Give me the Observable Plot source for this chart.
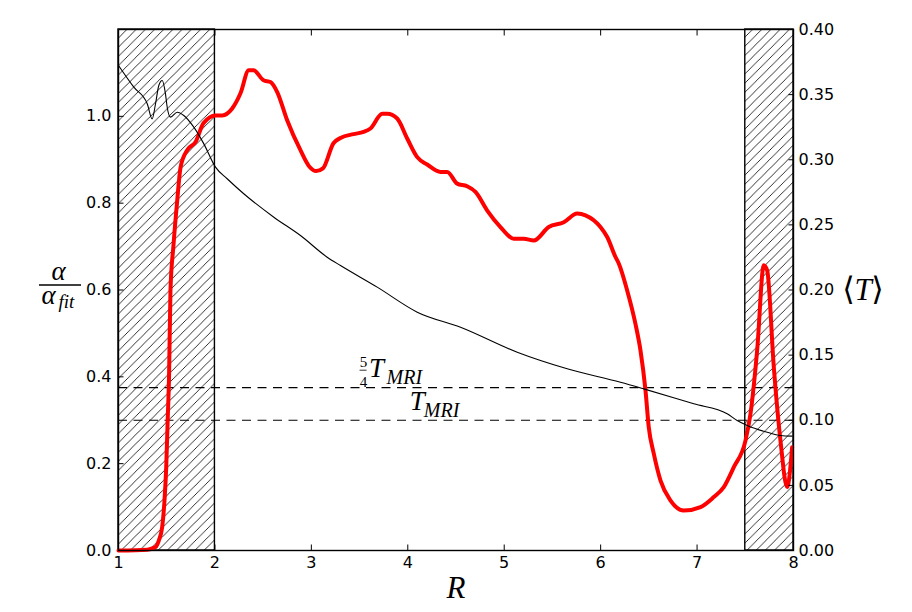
<!DOCTYPE html>
<html><head><meta charset="utf-8">
<script src="https://cdn.jsdelivr.net/npm/d3@7"></script>
<script src="https://cdn.jsdelivr.net/npm/@observablehq/plot@0.6"></script>
<style>body{margin:0;background:#fff;}</style>
</head><body><div id="chart"></div>
<script>
// ---- data ----
const xTicks = [1, 2, 3, 4, 5, 6, 7, 8];
const alphaTicks = [0.0, 0.2, 0.4, 0.6, 0.8, 1.0];
const tempTicks = [0.00, 0.05, 0.10, 0.15, 0.20, 0.25, 0.30, 0.35, 0.40];
const hatchStart = [1, 7.5];
const hatchEnd = [2, 8];
const mriLevels = [0.1, 0.125]; // T_MRI, 5/4 T_MRI  (right axis units)

// alpha / alpha_fit (left axis), red
const alphaR = [1.0, 1.298, 1.384, 1.418, 1.453, 1.477, 1.495, 1.510, 1.524, 1.539, 1.570, 1.609, 1.643, 1.712, 1.799, 1.881, 2.006, 2.075, 2.179, 2.265, 2.351, 2.400, 2.504, 2.576, 2.646, 2.749, 2.887, 2.980, 3.050, 3.120, 3.229, 3.302, 3.437, 3.541, 3.613, 3.735, 3.787, 3.890, 3.994, 4.098, 4.201, 4.339, 4.409, 4.512, 4.616, 4.702, 4.824, 4.961, 5.099, 5.203, 5.307, 5.462, 5.618, 5.757, 5.843, 5.998, 6.068, 6.154, 6.188, 6.275, 6.361, 6.413, 6.465, 6.499, 6.551, 6.621, 6.725, 6.862, 7.036, 7.173, 7.277, 7.381, 7.502, 7.554, 7.623, 7.692, 7.727, 7.796, 7.865, 7.934, 7.986];
const alphaVal = [0.000, 0.002, 0.008, 0.023, 0.054, 0.115, 0.192, 0.300, 0.399, 0.599, 0.703, 0.806, 0.882, 0.922, 0.941, 0.984, 1.002, 1.002, 1.018, 1.053, 1.106, 1.106, 1.083, 1.079, 1.056, 0.991, 0.922, 0.884, 0.874, 0.880, 0.938, 0.950, 0.959, 0.964, 0.972, 1.006, 1.006, 0.995, 0.949, 0.906, 0.889, 0.872, 0.872, 0.845, 0.839, 0.826, 0.783, 0.745, 0.718, 0.718, 0.714, 0.745, 0.756, 0.776, 0.772, 0.745, 0.722, 0.676, 0.661, 0.599, 0.522, 0.461, 0.369, 0.284, 0.223, 0.161, 0.115, 0.092, 0.100, 0.123, 0.146, 0.192, 0.253, 0.315, 0.461, 0.657, 0.645, 0.422, 0.253, 0.146, 0.238];

// <T> (right axis), black
const tempR = [1.000, 1.159, 1.298, 1.349, 1.384, 1.418, 1.453, 1.487, 1.505, 1.539, 1.609, 1.677, 1.781, 1.885, 2.006, 2.127, 2.299, 2.611, 2.887, 3.164, 3.302, 3.683, 4.098, 4.547, 5.135, 5.653, 6.206, 6.447, 6.966, 7.312, 7.416, 7.520, 7.727, 7.865, 7.986];
const tempVal = [0.3724, 0.3557, 0.3430, 0.3314, 0.3430, 0.3570, 0.3608, 0.3506, 0.3403, 0.3327, 0.3365, 0.3340, 0.3250, 0.3122, 0.2943, 0.2854, 0.2739, 0.2559, 0.2418, 0.2252, 0.2188, 0.2022, 0.1830, 0.1714, 0.1522, 0.1395, 0.1292, 0.1241, 0.1126, 0.1050, 0.0998, 0.0960, 0.0908, 0.0883, 0.0878];

// ---- build ----
const tScale = 1.2 / 0.4; // left-axis units per right-axis unit
const alphaData = alphaR.map((r, i) => ({R: r, a: alphaVal[i]}));
const tempData = tempR.map((r, i) => ({R: r, T: tempVal[i]}));
const zones = hatchStart.map((s, i) => ({start: s, end: hatchEnd[i]}));
const math = "'Liberation Serif', 'DejaVu Serif', serif";
const it = {fontFamily: math, fontStyle: "italic", fill: "black"};

const plot = Plot.plot({
  width: 912, height: 612,
  marginLeft: 118, marginRight: 119, marginTop: 29, marginBottom: 62,
  x: {domain: [1, 8]},
  y: {domain: [0, 1.2]},
  style: {fontFamily: "'DejaVu Sans', sans-serif", fontSize: "16px", color: "black", background: "white"},
  marks: [
    Plot.rect(zones, {x1: "start", x2: "end", y1: 0, y2: 1.2, fill: "url(#hatch)", stroke: "black", strokeWidth: 1.4}),
    Plot.ruleY(mriLevels, {y: d => d * tScale, stroke: "black", strokeWidth: 1.2, strokeDasharray: "9,6.5"}),
    Plot.line(alphaData, {x: "R", y: "a", stroke: "#ff0000", strokeWidth: 4, strokeLinejoin: "round", curve: "monotone-x"}),
    Plot.line(tempData, {x: "R", y: d => d.T * tScale, stroke: "black", strokeWidth: 1.1, curve: "monotone-x"}),
    Plot.axisX({anchor: "bottom", ticks: xTicks, tickSize: -5.5, tickPadding: 11.5, tickFormat: d => String(d), label: null, fontSize: 16}),
    Plot.axisX({anchor: "top", ticks: xTicks, tickSize: -5.5, tickFormat: () => "", label: null}),
    Plot.axisY({anchor: "left", ticks: alphaTicks, tickSize: -5.5, tickPadding: 12.5, tickFormat: d => d.toFixed(1), label: null, fontSize: 16}),
    Plot.axisY({anchor: "right", ticks: tempTicks.map(t => t * tScale), tickSize: -5.5, tickPadding: 10.5, tickFormat: d => (d / tScale).toFixed(2), label: null, fontSize: 16}),
    Plot.frame({stroke: "black", strokeWidth: 1.4}),
    // x label
    Plot.text(["R"], {text: d => d, frameAnchor: "bottom", lineAnchor: "bottom", dy: 47, fontSize: 31, ...it}),
    // right label <T>
    Plot.text(["⟨"], {text: d => d, frameAnchor: "right", textAnchor: "middle", dx: 55, fontSize: 32, fontFamily: "'DejaVu Serif', serif", fill: "black"}),
    Plot.text(["T"], {text: d => d, frameAnchor: "right", textAnchor: "middle", dx: 69.5, fontSize: 31, ...it}),
    Plot.text(["⟩"], {text: d => d, frameAnchor: "right", textAnchor: "middle", dx: 84, fontSize: 32, fontFamily: "'DejaVu Serif', serif", fill: "black"}),
    // left label alpha / alpha_fit
    Plot.text(["α"], {text: d => d, frameAnchor: "left", textAnchor: "middle", lineAnchor: "bottom", dx: -60, dy: -10.5, fontSize: 27, ...it}),
    Plot.text(["α"], {text: d => d, frameAnchor: "left", textAnchor: "middle", lineAnchor: "bottom", dx: -70, dy: 13.5, fontSize: 27, ...it}),
    Plot.text(["fit"], {text: d => d, frameAnchor: "left", textAnchor: "start", lineAnchor: "bottom", dx: -60, dy: 17.5, fontSize: 19, ...it}),
    // 5/4 T_MRI
    Plot.text(["5"], {text: d => d, x: 3.5, y: mriLevels[1] * tScale, textAnchor: "middle", lineAnchor: "bottom", dx: 4, dy: -20.5, fontSize: 15, fontFamily: math, fill: "black"}),
    Plot.text(["4"], {text: d => d, x: 3.5, y: mriLevels[1] * tScale, textAnchor: "middle", lineAnchor: "bottom", dx: 4, dy: -0.5, fontSize: 15, fontFamily: math, fill: "black"}),
    Plot.text(["T"], {text: d => d, x: 3.5, y: mriLevels[1] * tScale, textAnchor: "start", lineAnchor: "bottom", dx: 9.5, dy: -10.5, fontSize: 27, ...it}),
    Plot.text(["MRI"], {text: d => d, x: 3.5, y: mriLevels[1] * tScale, textAnchor: "start", lineAnchor: "bottom", dx: 27, dy: -4, fontSize: 20, ...it}),
    // T_MRI
    Plot.text(["T"], {text: d => d, x: 4, y: mriLevels[0] * tScale, textAnchor: "start", lineAnchor: "bottom", dx: 2, dy: -10, fontSize: 27, ...it}),
    Plot.text(["MRI"], {text: d => d, x: 4, y: mriLevels[0] * tScale, textAnchor: "start", lineAnchor: "bottom", dx: 16, dy: -3.5, fontSize: 20, ...it})
  ]
});

// hatch pattern
const hw = 9.2;
d3.select(plot).insert("defs", ":first-child").html(
  `<pattern id="hatch" patternUnits="userSpaceOnUse" width="${hw}" height="${hw}">
     <rect width="${hw}" height="${hw}" fill="white"/>
     <path d="M-2,2 L2,-2 M0,${hw} L${hw},0 M${hw-2},${hw+2} L${hw+2},${hw-2}" stroke="black" stroke-width="0.8"/>
   </pattern>`);

// fraction bars
const xs = plot.scale("x"), ys = plot.scale("y");
const g = d3.select(plot).append("g").attr("stroke", "black");
const yMid = (ys.apply(0) + ys.apply(1.2)) / 2;
const x0 = xs.apply(1);
g.append("line").attr("x1", x0 - 79).attr("x2", x0 - 37).attr("y1", yMid - 4.5).attr("y2", yMid - 4.5).attr("stroke-width", 1.3);
const fx = xs.apply(3.5), fy = ys.apply(mriLevels[1] * tScale);
g.append("line").attr("x1", fx + 0.5).attr("x2", fx + 7.5).attr("y1", fy - 17).attr("y2", fy - 17).attr("stroke-width", 0.8);

document.getElementById("chart").appendChild(plot);
</script>
</body></html>
